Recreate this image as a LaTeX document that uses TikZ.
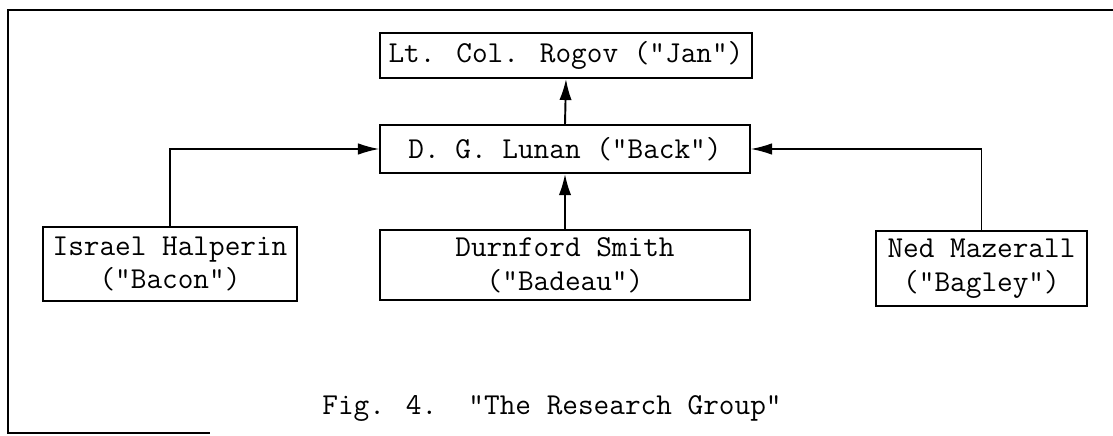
\documentclass[tikz,border=0pt]{standalone}
\usetikzlibrary{arrows.meta}
\begin{document}
\begin{tikzpicture}[x=0.02cm, y=-0.02cm,
	kasten/.style={draw, line width=1.1pt, inner sep=0pt, align=center,
		font=\ttfamily\fontsize{17.3}{19.3}\selectfont},
	pfeil/.style={line width=1.1pt, -{Latex[length=12pt, width=7pt]}},
	seite/.style={line width=0.7pt, -{Latex[length=12pt, width=6.5pt]}}]
	\useasboundingbox (0,0) rectangle (1113,436);
	
	%Rahmen
	\draw[line width=0.9pt] (1113,10) -- (8,10) -- (8,433) -- (210,433);
	
	%Kaesten
	\node[kasten, minimum width=7.44cm, minimum height=0.90cm] (rogov) at (566,55.5) {Lt. Col. Rogov ("Jan")};
	\node[kasten, minimum width=7.40cm, minimum height=0.96cm] (lunan) at (565,149) {D. G. Lunan ("Back")};
	\node[kasten, minimum width=5.08cm, minimum height=1.48cm] (halperin) at (170,264) {Israel Halperin\\("Bacon")};
	\node[kasten, minimum width=7.40cm, minimum height=1.40cm] (smith) at (565,265) {Durnford Smith\\("Badeau")};
	\node[kasten, minimum width=4.22cm, minimum height=1.50cm] (mazerall) at (981.5,268.5) {Ned Mazerall\\("Bagley")};
	
	%Pfeile
	\draw[pfeil] (lunan.north) -- (rogov.south);
	\draw[pfeil] (smith.north) -- (lunan.south);
	\draw[seite] (halperin.north) |- (lunan.west);
	\draw[seite] (mazerall.north) |- (lunan.east);
	
	%Titel
	\node[anchor=base, inner sep=0pt, font=\ttfamily\fontsize{17.3}{19.3}\selectfont] (titel) at (552,414) {Fig. 4.\ \ "The Research Group"};
\end{tikzpicture}
\end{document}
